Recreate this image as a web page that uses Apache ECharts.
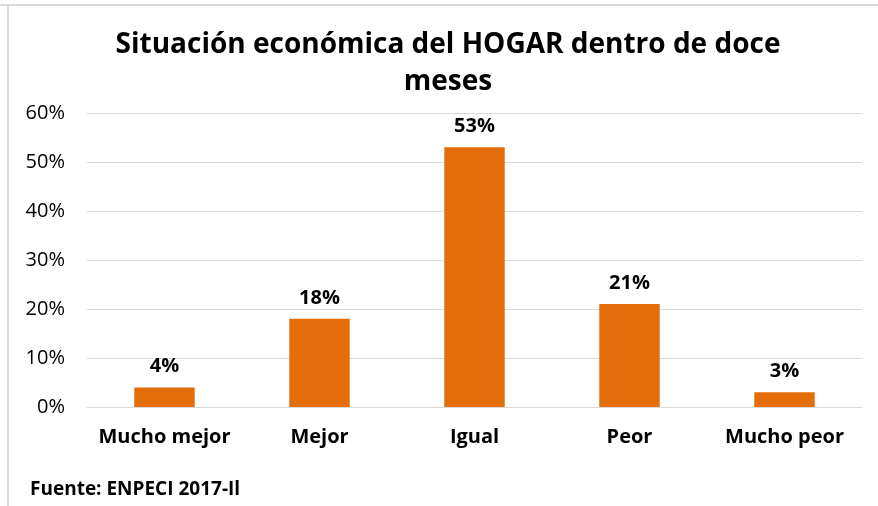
<!DOCTYPE html>
<html><head><meta charset="utf-8">
<script src="https://cdn.jsdelivr.net/npm/echarts@6/dist/echarts.min.js"></script>
<style>html,body{margin:0;padding:0;background:#fff}#c{width:878px;height:506px}</style>
</head><body><div id="c"></div>
<script>
const categories = ['Mucho mejor', 'Mejor', 'Igual', 'Peor', 'Mucho peor'];
const values = [4, 18, 53, 21, 3];
const yTicks = [0, 10, 20, 30, 40, 50, 60];

const FONT = '"Open Sans", sans-serif';
const chart = echarts.init(document.getElementById('c'), null, {renderer: 'canvas'});
chart.setOption({
  animation: false,
  backgroundColor: '#ffffff',
  graphic: [
    {type: 'line', shape: {x1: 0, y1: 5, x2: 878, y2: 5}, style: {stroke: '#d9d9d9', lineWidth: 2}},
    {type: 'line', shape: {x1: 8, y1: 5, x2: 8, y2: 506}, style: {stroke: '#d9d9d9', lineWidth: 2}},
    {type: 'text', x: 448, y: 27, style: {text: 'Situación económica del HOGAR dentro de doce\nmeses', textAlign: 'center', fontFamily: FONT, fontWeight: 'bold', fontSize: 28, lineHeight: 37, fill: '#000'}},
    {type: 'text', left: 30, top: 480, style: {text: 'Fuente: ENPECI 2017-Il', fontFamily: FONT, fontWeight: 'bold', fontSize: 19, fill: '#000'}}
  ],
  grid: {left: 87, right: 16, top: 113, bottom: 99, containLabel: false},
  xAxis: {
    type: 'category', data: categories,
    axisLine: {show: true, lineStyle: {color: '#d9d9d9', width: 1}},
    axisTick: {show: false},
    axisLabel: {interval: 0, fontFamily: FONT, fontWeight: 'bold', fontSize: 20, color: '#000', margin: 20}
  },
  yAxis: {
    type: 'value', min: yTicks[0], max: yTicks[yTicks.length - 1], interval: 10,
    axisLine: {show: false}, axisTick: {show: false},
    splitLine: {lineStyle: {color: '#d9d9d9', width: 1}},
    axisLabel: {formatter: v => v + '%', fontFamily: FONT, fontSize: 20, color: '#000', margin: 22}
  },
  series: [{
    type: 'bar', data: values, barWidth: '39%',
    itemStyle: {color: '#E46C0A'},
    label: {show: true, position: 'top', formatter: p => p.value + '%', fontFamily: FONT, fontWeight: 'bold', fontSize: 20, color: '#000', distance: 11}
  }]
});
</script></body></html>
